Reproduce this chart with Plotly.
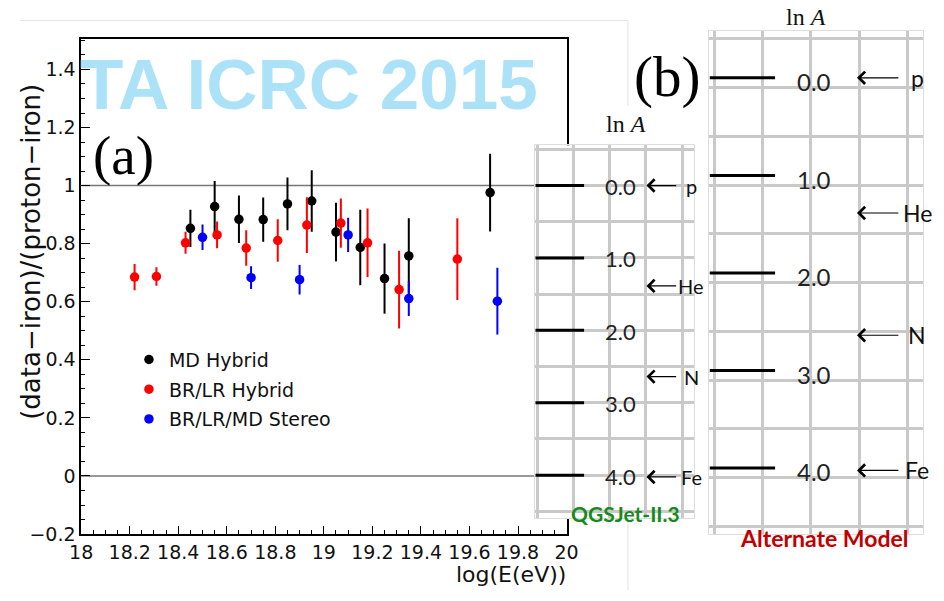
import plotly.graph_objects as go

W, H = 944, 601

# ---------------- data ----------------
md_logE = [18.45, 18.55, 18.65, 18.75, 18.85, 18.95, 19.05, 19.15, 19.25, 19.35, 19.685]
md_val = [0.853, 0.928, 0.884, 0.883, 0.937, 0.947, 0.840, 0.787, 0.680, 0.758, 0.976]
md_err = [0.064, 0.088, 0.082, 0.076, 0.091, 0.106, 0.101, 0.130, 0.121, 0.130, 0.134]

brlr_logE = [18.22, 18.31, 18.43, 18.56, 18.68, 18.81, 18.93, 19.07, 19.18, 19.31, 19.55]
brlr_val = [0.685, 0.687, 0.803, 0.830, 0.785, 0.811, 0.864, 0.871, 0.803, 0.642, 0.747]
brlr_err = [0.045, 0.032, 0.038, 0.046, 0.061, 0.073, 0.096, 0.085, 0.118, 0.134, 0.141]

stereo_logE = [18.50, 18.70, 18.90, 19.10, 19.35, 19.715]
stereo_val = [0.822, 0.683, 0.676, 0.830, 0.611, 0.602]
stereo_err = [0.044, 0.039, 0.051, 0.059, 0.060, 0.115]

series_names = ["MD Hybrid", "BR/LR Hybrid", "BR/LR/MD Stereo"]
series_colors = ["#000000", "#ff0000", "#0000ff"]

ref_levels = [0.0, 1.0]              # iron and proton reference lines

lnA_ticks = [0, 1, 2, 3, 4]
lnA_labels = ["0.0", "1.0", "2.0", "3.0", "4.0"]
elements = ["p", "He", "N", "Fe"]
element_lnA = [0.0, 1.386, 2.639, 4.025]

# ---------------- layout helpers (pixel -> paper) ----------------
def px(x):
    return x / W


def py(y):
    return 1 - y / H


# panel 1 (QGSJet-II.3) grid units: 37 px per cell, first line at x=539.5
def p1x(x):
    return (x - 539.5) / 37.0


# panel b (Alternate Model) grid units: 49.6 px per cell, first line at x=720.5
def p2x(x):
    return (x - 720.5) / 49.6


fig = go.Figure()

series = [
    (md_logE, md_val, md_err),
    (brlr_logE, brlr_val, brlr_err),
    (stereo_logE, stereo_val, stereo_err),
]
for (xs, ys, es), name, col in zip(series, series_names, series_colors):
    fig.add_trace(go.Scatter(
        x=xs, y=ys, mode="markers", name=name, legendgroup=name,
        marker=dict(color=col, size=9.5),
        error_y=dict(type="data", array=es, visible=True, color=col, thickness=2, width=0),
        xaxis="x", yaxis="y", showlegend=True,
    ))


def hbars(values, x0, x1):
    xs, ys = [], []
    for v in values:
        xs += [x0, x1, None]
        ys += [v, v, None]
    return xs, ys


bx, by = hbars(lnA_ticks, p1x(537), p1x(587))
fig.add_trace(go.Scatter(x=bx, y=by, mode="lines", line=dict(color="black", width=3),
                         xaxis="x2", yaxis="y2", showlegend=False, hoverinfo="skip"))
bx, by = hbars(lnA_ticks, p2x(716), p2x(783))
fig.add_trace(go.Scatter(x=bx, y=by, mode="lines", line=dict(color="black", width=3),
                         xaxis="x3", yaxis="y3", showlegend=False, hoverinfo="skip"))

root_font = "DejaVu Sans"
tick_font = dict(family=root_font, size=19, color="#111")

grid_col = "#c9c9c9"
fig.update_layout(
    width=W, height=H, autosize=False,
    margin=dict(l=0, r=0, t=0, b=0),
    paper_bgcolor="white", plot_bgcolor="white",
    xaxis=dict(
        domain=[px(71), px(569)], range=[18, 20], tick0=18, dtick=0.2,
        ticks="inside", ticklen=8, tickwidth=1, tickcolor="black",
        minor=dict(dtick=0.05, ticks="inside", ticklen=4, tickwidth=1, tickcolor="black", showgrid=False),
        showgrid=False, zeroline=False, showline=True, linecolor="black", linewidth=1.6,
        mirror=True, tickfont=tick_font, anchor="y",
    ),
    yaxis=dict(
        domain=[py(544), py(40)], range=[-0.2, 1.504], tick0=0, dtick=0.2,
        ticks="inside", ticklen=9, tickwidth=1, tickcolor="black",
        minor=dict(dtick=0.05, ticks="inside", ticklen=4, tickwidth=1, tickcolor="black", showgrid=False),
        showgrid=False, zeroline=False, showline=True, linecolor="black", linewidth=1.6,
        mirror=True, tickfont=tick_font, anchor="x",
    ),
    xaxis2=dict(
        domain=[px(537), px(700)], range=[p1x(537), p1x(700)], tick0=0, dtick=1,
        showgrid=True, gridcolor=grid_col, gridwidth=2.5, showticklabels=False, ticks="",
        zeroline=False, showline=True, linecolor="#dddddd", linewidth=1, mirror=True, anchor="y2",
    ),
    yaxis2=dict(
        domain=[py(528), py(148)], range=[(528 - 189) / 73.75, (148 - 189) / 73.75], tick0=0, dtick=0.5,
        showgrid=True, gridcolor=grid_col, gridwidth=2.5, showticklabels=False, ticks="",
        zeroline=False, showline=True, linecolor="#dddddd", linewidth=1, mirror=True, anchor="x2",
    ),
    xaxis3=dict(
        domain=[px(715), px(935)], range=[p2x(715), p2x(935)], tick0=0, dtick=1,
        showgrid=True, gridcolor=grid_col, gridwidth=2.5, showticklabels=False, ticks="",
        zeroline=False, showline=True, linecolor="#dddddd", linewidth=1, mirror=True, anchor="y3",
    ),
    yaxis3=dict(
        domain=[py(544), py(32)], range=[(544 - 79.3) / 99.35, (32 - 79.3) / 99.35], tick0=0.1, dtick=0.5,
        showgrid=True, gridcolor=grid_col, gridwidth=2.5, showticklabels=False, ticks="",
        zeroline=False, showline=True, linecolor="#dddddd", linewidth=1, mirror=True, anchor="x3",
    ),
    legend=dict(
        x=px(120), y=py(347), xanchor="left", yanchor="top",
        font=dict(family=root_font, size=19, color="#111"),
        bgcolor="rgba(0,0,0,0)", borderwidth=0, tracegroupgap=2, itemwidth=30,
    ),
    showlegend=True,
)

# reference lines at proton (1) and iron (0)
for lvl in ref_levels:
    fig.add_shape(type="line", xref="x domain", yref="y", x0=0, x1=1, y0=lvl, y1=lvl,
                  line=dict(color="#777777", width=1.5), layer="below")

# faint slide borders
border = dict(color="#e2e2e2", width=1)
fig.add_shape(type="line", xref="paper", yref="paper", x0=px(8), x1=px(632), y0=py(21), y1=py(21), line=border, layer="below")
fig.add_shape(type="line", xref="paper", yref="paper", x0=px(632), x1=px(632), y0=py(21), y1=py(108), line=border, layer="below")
fig.add_shape(type="line", xref="paper", yref="paper", x0=px(632), x1=px(632), y0=py(529), y1=py(601), line=border, layer="below")

ann = []
# watermark
ann.append(dict(text="<b>TA ICRC 2015</b>", xref="paper", yref="paper", x=px(305), y=py(86),
                xanchor="center", yanchor="middle", showarrow=False,
                font=dict(family="Liberation Sans, Arial", size=71, color="#ace2f7")))
# panel letters
ann.append(dict(text="(a)", xref="paper", yref="paper", x=px(114), y=py(158),
                xanchor="center", yanchor="middle", showarrow=False,
                font=dict(family="Liberation Serif, Times New Roman", size=55, color="black")))
ann.append(dict(text="(b)", xref="paper", yref="paper", x=px(672), y=py(78),
                xanchor="center", yanchor="middle", showarrow=False,
                font=dict(family="Liberation Serif, Times New Roman", size=57, color="black")))
# axis titles
ann.append(dict(text="log(E(eV))", xref="paper", yref="paper", x=px(571), y=py(585),
                xanchor="right", yanchor="middle", showarrow=False,
                font=dict(family=root_font, size=22, color="#111")))
ann.append(dict(text="(data\u2212iron)/(proton\u2212iron)", xref="paper", yref="paper", x=px(20), y=py(256),
                xanchor="center", yanchor="middle", showarrow=False, textangle=-90,
                font=dict(family=root_font, size=26, color="#111")))
# ln A headers
ann.append(dict(text="ln <i>A</i>", xref="paper", yref="paper", x=px(630), y=py(126),
                xanchor="center", yanchor="middle", showarrow=False,
                font=dict(family="Liberation Serif, Times New Roman", size=24, color="#111")))
ann.append(dict(text="ln <i>A</i>", xref="paper", yref="paper", x=px(815), y=py(17),
                xanchor="center", yanchor="middle", showarrow=False,
                font=dict(family="Liberation Serif, Times New Roman", size=24, color="#111")))
# model names
ann.append(dict(text="<b>QGSJet-II.3</b>", xref="paper", yref="paper", x=px(572), y=py(523),
                xanchor="left", yanchor="middle", showarrow=False,
                font=dict(family="Lato, Open Sans", size=21, color="#168a1a")))
ann.append(dict(text="<b>Alternate Model</b>", xref="paper", yref="paper", x=px(833), y=py(548),
                xanchor="center", yanchor="middle", showarrow=False,
                font=dict(family="Lato, Open Sans", size=23, color="#c00000")))

panel_font1 = dict(family="Lato, Open Sans", size=22, color="#222")
panel_font2 = dict(family="Lato, Open Sans", size=24, color="#222")
elem_font1 = dict(family="Lato, Open Sans", size=20, color="#111")
elem_font2 = dict(family="Lato, Open Sans", size=23, color="#111")

for v, lab in zip(lnA_ticks, lnA_labels):
    ann.append(dict(text=lab, xref="x2", yref="y2", x=p1x(624), y=v, xanchor="center", yanchor="middle",
                    showarrow=False, font=panel_font1, yshift=-1))
    ann.append(dict(text=lab, xref="x3", yref="y3", x=p2x(823), y=v, xanchor="center", yanchor="middle",
                    showarrow=False, font=panel_font2, yshift=-4))

for el, v in zip(elements, element_lnA):
    # panel 1 arrows
    ann.append(dict(text="", xref="x2", yref="y2", axref="x2", ayref="y2",
                    x=p1x(651), y=v, ax=p1x(683), ay=v, showarrow=True,
                    arrowhead=4, arrowsize=2, arrowwidth=1.2, arrowcolor="black"))
    ann.append(dict(text=el, xref="x2", yref="y2", x=p1x(697), y=v, xanchor="center", yanchor="middle",
                    showarrow=False, font=elem_font1))
    # panel b arrows
    ann.append(dict(text="", xref="x3", yref="y3", axref="x3", ayref="y3",
                    x=p2x(867), y=v, ax=p2x(911), ay=v, showarrow=True,
                    arrowhead=4, arrowsize=2, arrowwidth=1.2, arrowcolor="black"))
    ann.append(dict(text=el, xref="x3", yref="y3", x=p2x(929), y=v, xanchor="center", yanchor="middle",
                    showarrow=False, font=elem_font2))

fig.update_layout(annotations=ann)

fig.write_html("out.html")
